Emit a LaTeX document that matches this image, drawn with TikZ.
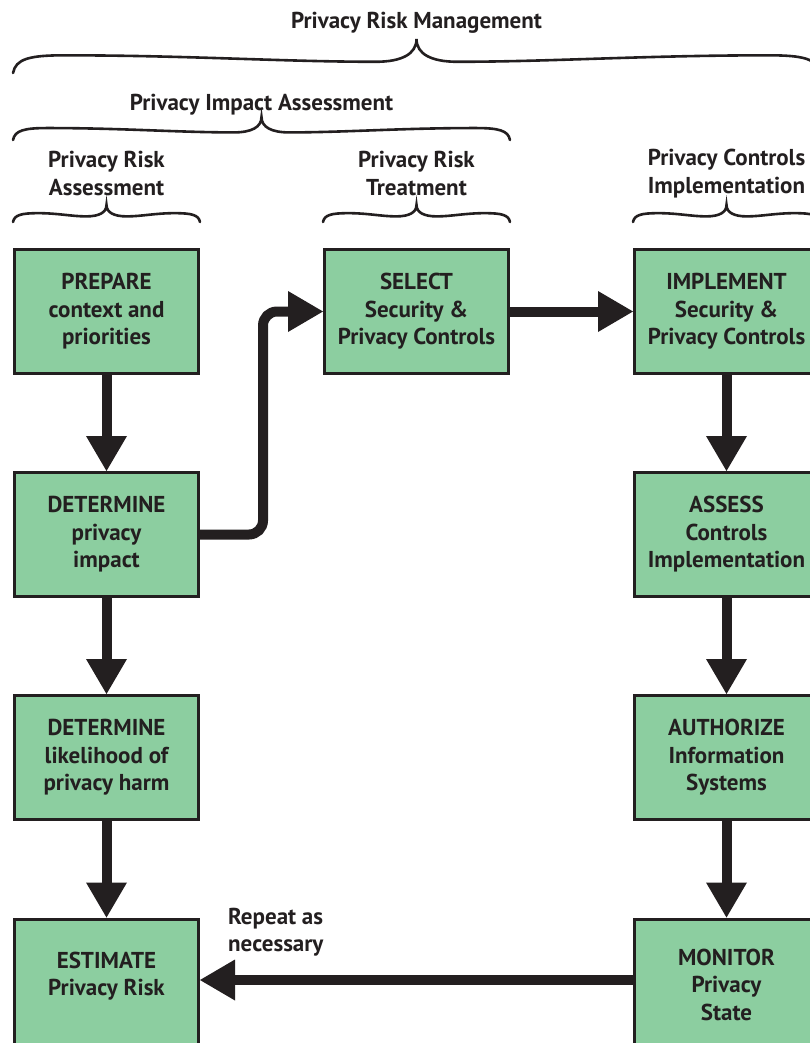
\documentclass[tikz,border=0pt]{standalone}
\usepackage{fontspec}
\setmainfont{PT Sans}
\usetikzlibrary{arrows.meta}
\definecolor{ink}{HTML}{231F20}
\definecolor{boxgreen}{HTML}{8CCEA0}

% curly brace: left x, right x, tip y, end y (y grows downwards)
\newcommand\drawbrace[4]{%
  \pgfmathsetmacro\brL{#1}\pgfmathsetmacro\brR{#2}%
  \pgfmathsetmacro\brM{(#1+#2)/2}\pgfmathsetmacro\brT{#3}%
  \pgfmathsetmacro\brE{#4}\pgfmathsetmacro\brH{#4-#3}%
  \pgfmathsetmacro\brA{\brL+1.5*\brH}\pgfmathsetmacro\brB{\brM-1.2*\brH}%
  \pgfmathsetmacro\brD{\brB-\brA}%
  \draw[bracestyle]
    (\brL,\brE)
      .. controls ({\brL+0.08*\brH},{\brE-0.42*\brH}) and ({\brL+0.5*\brH},{\brE-0.52*\brH}) .. ({\brA},{\brE-0.52*\brH})
      .. controls ({\brA+0.4*\brD},{\brE-0.52*\brH}) and ({\brB-0.3*\brD},{\brE-0.33*\brH}) .. ({\brB},{\brE-0.33*\brH})
      .. controls ({\brM-0.45*\brH},{\brE-0.33*\brH}) and ({\brM},{\brE-0.55*\brH}) .. ({\brM},{\brT})
      .. controls ({\brM},{\brE-0.55*\brH}) and ({\brM+0.45*\brH},{\brE-0.33*\brH}) .. ({2*\brM-\brB},{\brE-0.33*\brH})
      .. controls ({2*\brM-\brB+0.3*\brD},{\brE-0.33*\brH}) and ({\brR-1.5*\brH-0.4*\brD},{\brE-0.52*\brH}) .. ({\brR-1.5*\brH},{\brE-0.52*\brH})
      .. controls ({\brR-0.5*\brH},{\brE-0.52*\brH}) and ({\brR-0.08*\brH},{\brE-0.42*\brH}) .. (\brR,\brE);
}

\begin{document}
\begin{tikzpicture}[x=1pt, y=-1pt,
  txt/.style={font=\bfseries\fontsize{23}{27.5}\selectfont, text=ink},
  hdr/.style={txt, align=center, inner sep=0pt},
  stepbox/.style={txt, draw=ink, line width=3pt, fill=boxgreen,
    minimum width=184pt, minimum height=124pt, inner sep=0pt, align=center},
  lastbox/.style={stepbox, minimum height=131pt},
  flow/.style={draw=ink, line width=10pt,
    -{Triangle[length=35pt, width=41pt, line width=0pt]}},
  bracestyle/.style={draw=ink, line width=2.6pt, line cap=round}]
\useasboundingbox (0,0) rectangle (810,1043);
\clip (0,0) rectangle (810,1043);

% group headings and braces
\node[hdr] (rm) at (416.5,23) {Privacy Risk Management};
\drawbrace{13}{820}{39}{73}
\node[hdr] (pia) at (261.5,105) {Privacy Impact Assessment};
\drawbrace{13}{510}{117}{140}
\node[hdr] (ra) at (106.5,173.5) {Privacy Risk\\Assessment};
\node[hdr] (rt) at (416.5,173.5) {Privacy Risk\\Treatment};
\node[hdr] (ci) at (726.5,173.5) {Privacy Controls\\Implementation};
\drawbrace{13}{200}{205}{222}
\drawbrace{323}{510}{205}{222}
\drawbrace{633}{820}{205}{222}

% process steps (the bottom row runs past the lower edge)
\node[stepbox] (prep)   at (106.5,311.5) {PREPARE\\context and\\priorities};
\node[stepbox] (detimp) at (106.5,534.5) {DETERMINE\\privacy\\impact};
\node[stepbox] (detlik) at (106.5,757.5) {DETERMINE\\likelihood of\\privacy harm};
\node[lastbox] (est)    at (106.5,984.5) {ESTIMATE\\Privacy Risk\rule[-21pt]{0pt}{0pt}};
\node[stepbox] (sel)    at (416.5,311.5) {SELECT\\Security \&\\Privacy Controls};
\node[stepbox] (impl)   at (726.5,311.5) {IMPLEMENT\\Security \&\\Privacy Controls};
\node[stepbox] (assess) at (726.5,534.5) {ASSESS\\Controls\\Implementation};
\node[stepbox] (auth)   at (726.5,757.5) {AUTHORIZE\\Information\\Systems};
\node[lastbox] (mon)    at (726.5,984.5) {MONITOR\\Privacy\\State};

\node[txt, align=left, inner sep=0pt, anchor=west] (rep) at (228,932) {Repeat as\\necessary};

% flow between steps
\coordinate (bend) at (263,0);
\draw[flow] (prep) -- (detimp);
\draw[flow] (detimp) -- (detlik);
\draw[flow] (detlik) -- (est);
\draw[flow, rounded corners=14pt] (detimp.east) -- (detimp.east -| bend) -- (sel.west -| bend) -- (sel.west);
\draw[flow] (sel) -- (impl);
\draw[flow] (impl) -- (assess);
\draw[flow] (assess) -- (auth);
\draw[flow] (auth) -- (mon);
\draw[flow] ([yshift=4.5pt]mon.west) -- ([yshift=4.5pt]est.east);
\end{tikzpicture}
\end{document}
